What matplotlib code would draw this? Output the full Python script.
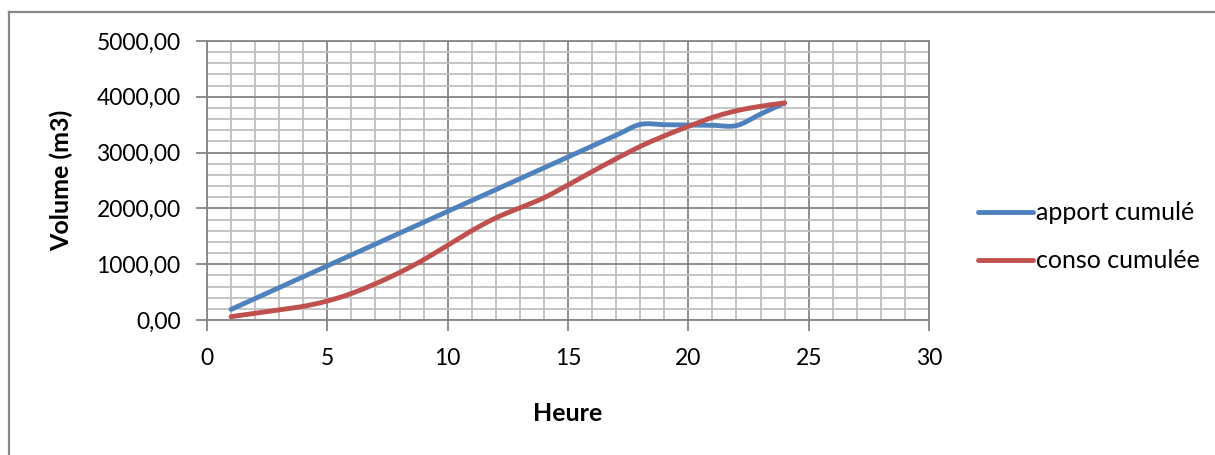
import numpy as np
import matplotlib
matplotlib.use("Agg")
import matplotlib.pyplot as plt
from matplotlib.lines import Line2D
from matplotlib.ticker import FuncFormatter, MultipleLocator

# Cumulative water volumes per hour (m3)
heures = [1, 2, 3, 4, 5, 6, 7, 8, 9, 10, 11, 12, 13, 14, 15, 16, 17, 18, 19, 20, 21, 22, 23, 24]
apport_cumule = [190, 385, 580, 775, 970, 1165, 1360, 1555, 1750, 1945, 2140, 2335,
                 2530, 2725, 2920, 3115, 3310, 3505, 3500, 3495, 3490, 3485, 3690, 3890]
conso_cumulee = [60, 120, 180, 245, 340, 475, 650, 850, 1080, 1340, 1600, 1830,
                 2010, 2190, 2420, 2660, 2890, 3110, 3300, 3470, 3630, 3750, 3830, 3890]

BLUE = "#4F81BD"
RED = "#C0504D"
FONT = "Lato"


def smooth(x, y, n=20):
    """Catmull-Rom style bezier through every point (like a spreadsheet 'smoothed line')."""
    x = np.asarray(x, float)
    y = np.asarray(y, float)
    pts = np.column_stack([x, y])
    ext = np.vstack([pts[0], pts, pts[-1]])
    out = []
    for i in range(len(pts) - 1):
        p0, p1, p2, p3 = ext[i], ext[i + 1], ext[i + 2], ext[i + 3]
        c1 = p1 + (p2 - p0) / 6.0
        c2 = p2 - (p3 - p1) / 6.0
        t = np.linspace(0, 1, n, endpoint=(i == len(pts) - 2))[:, None]
        seg = ((1 - t) ** 3) * p1 + 3 * ((1 - t) ** 2) * t * c1 + 3 * (1 - t) * t ** 2 * c2 + t ** 3 * p2
        out.append(seg)
    seg = np.vstack(out)
    return seg[:, 0], seg[:, 1]


W, H = 1215, 455
fig = plt.figure(figsize=(W / 100, H / 100), dpi=100)
ax = fig.add_axes([207 / W, (H - 320) / H, 722 / W, 279 / H])

for vals, color, label in [(apport_cumule, BLUE, "apport cumulé"),
                           (conso_cumulee, RED, "conso cumulée")]:
    sx, sy = smooth(heures, vals)
    ax.plot(sx, sy, color=color, lw=3.5, solid_capstyle="round", label=label, zorder=3)

ax.set_xlim(0, 30)
ax.set_ylim(0, 5000)
ax.xaxis.set_major_locator(MultipleLocator(5))
ax.xaxis.set_minor_locator(MultipleLocator(1))
ax.yaxis.set_major_locator(MultipleLocator(1000))
ax.yaxis.set_minor_locator(MultipleLocator(200))
ax.yaxis.set_major_formatter(FuncFormatter(lambda v, _: f"{v:.2f}".replace(".", ",")))

ax.grid(which="minor", color="#BFBFBF", lw=1.3)
ax.grid(which="major", color="#868686", lw=1.3)
ax.set_axisbelow(True)
for s in ax.spines.values():
    s.set_color("#868686")
    s.set_linewidth(1.3)

ax.tick_params(which="major", length=8, width=1.3, color="#868686", labelsize=16.5)
ax.tick_params(axis="x", pad=12)
ax.tick_params(axis="y", pad=11)
ax.tick_params(which="minor", length=0)
for lab in ax.get_xticklabels() + ax.get_yticklabels():
    lab.set_fontfamily(FONT)

ax.set_xlabel("Heure", fontsize=18, fontweight="bold", family=FONT, labelpad=24)
ax.set_ylabel("Volume (m3)", fontsize=18, fontweight="bold", family=FONT, labelpad=17)

ax.legend(loc="center left", bbox_to_anchor=(978 / W, (H - 237) / H),
          bbox_transform=fig.transFigure, frameon=False, handlelength=2.2,
          handletextpad=0.1, labelspacing=1.0, borderaxespad=0, borderpad=0,
          prop={"family": FONT, "size": 18})

# outer chart frame (top and left edges)
frame = dict(color="#888888", lw=1.6, transform=fig.transFigure)
fig.add_artist(Line2D([8.5 / W, 1.0], [1 - 12 / H, 1 - 12 / H], **frame))
fig.add_artist(Line2D([8.5 / W, 8.5 / W], [0.0, 1 - 12 / H], **frame))

fig.savefig("out.png", dpi=100)
